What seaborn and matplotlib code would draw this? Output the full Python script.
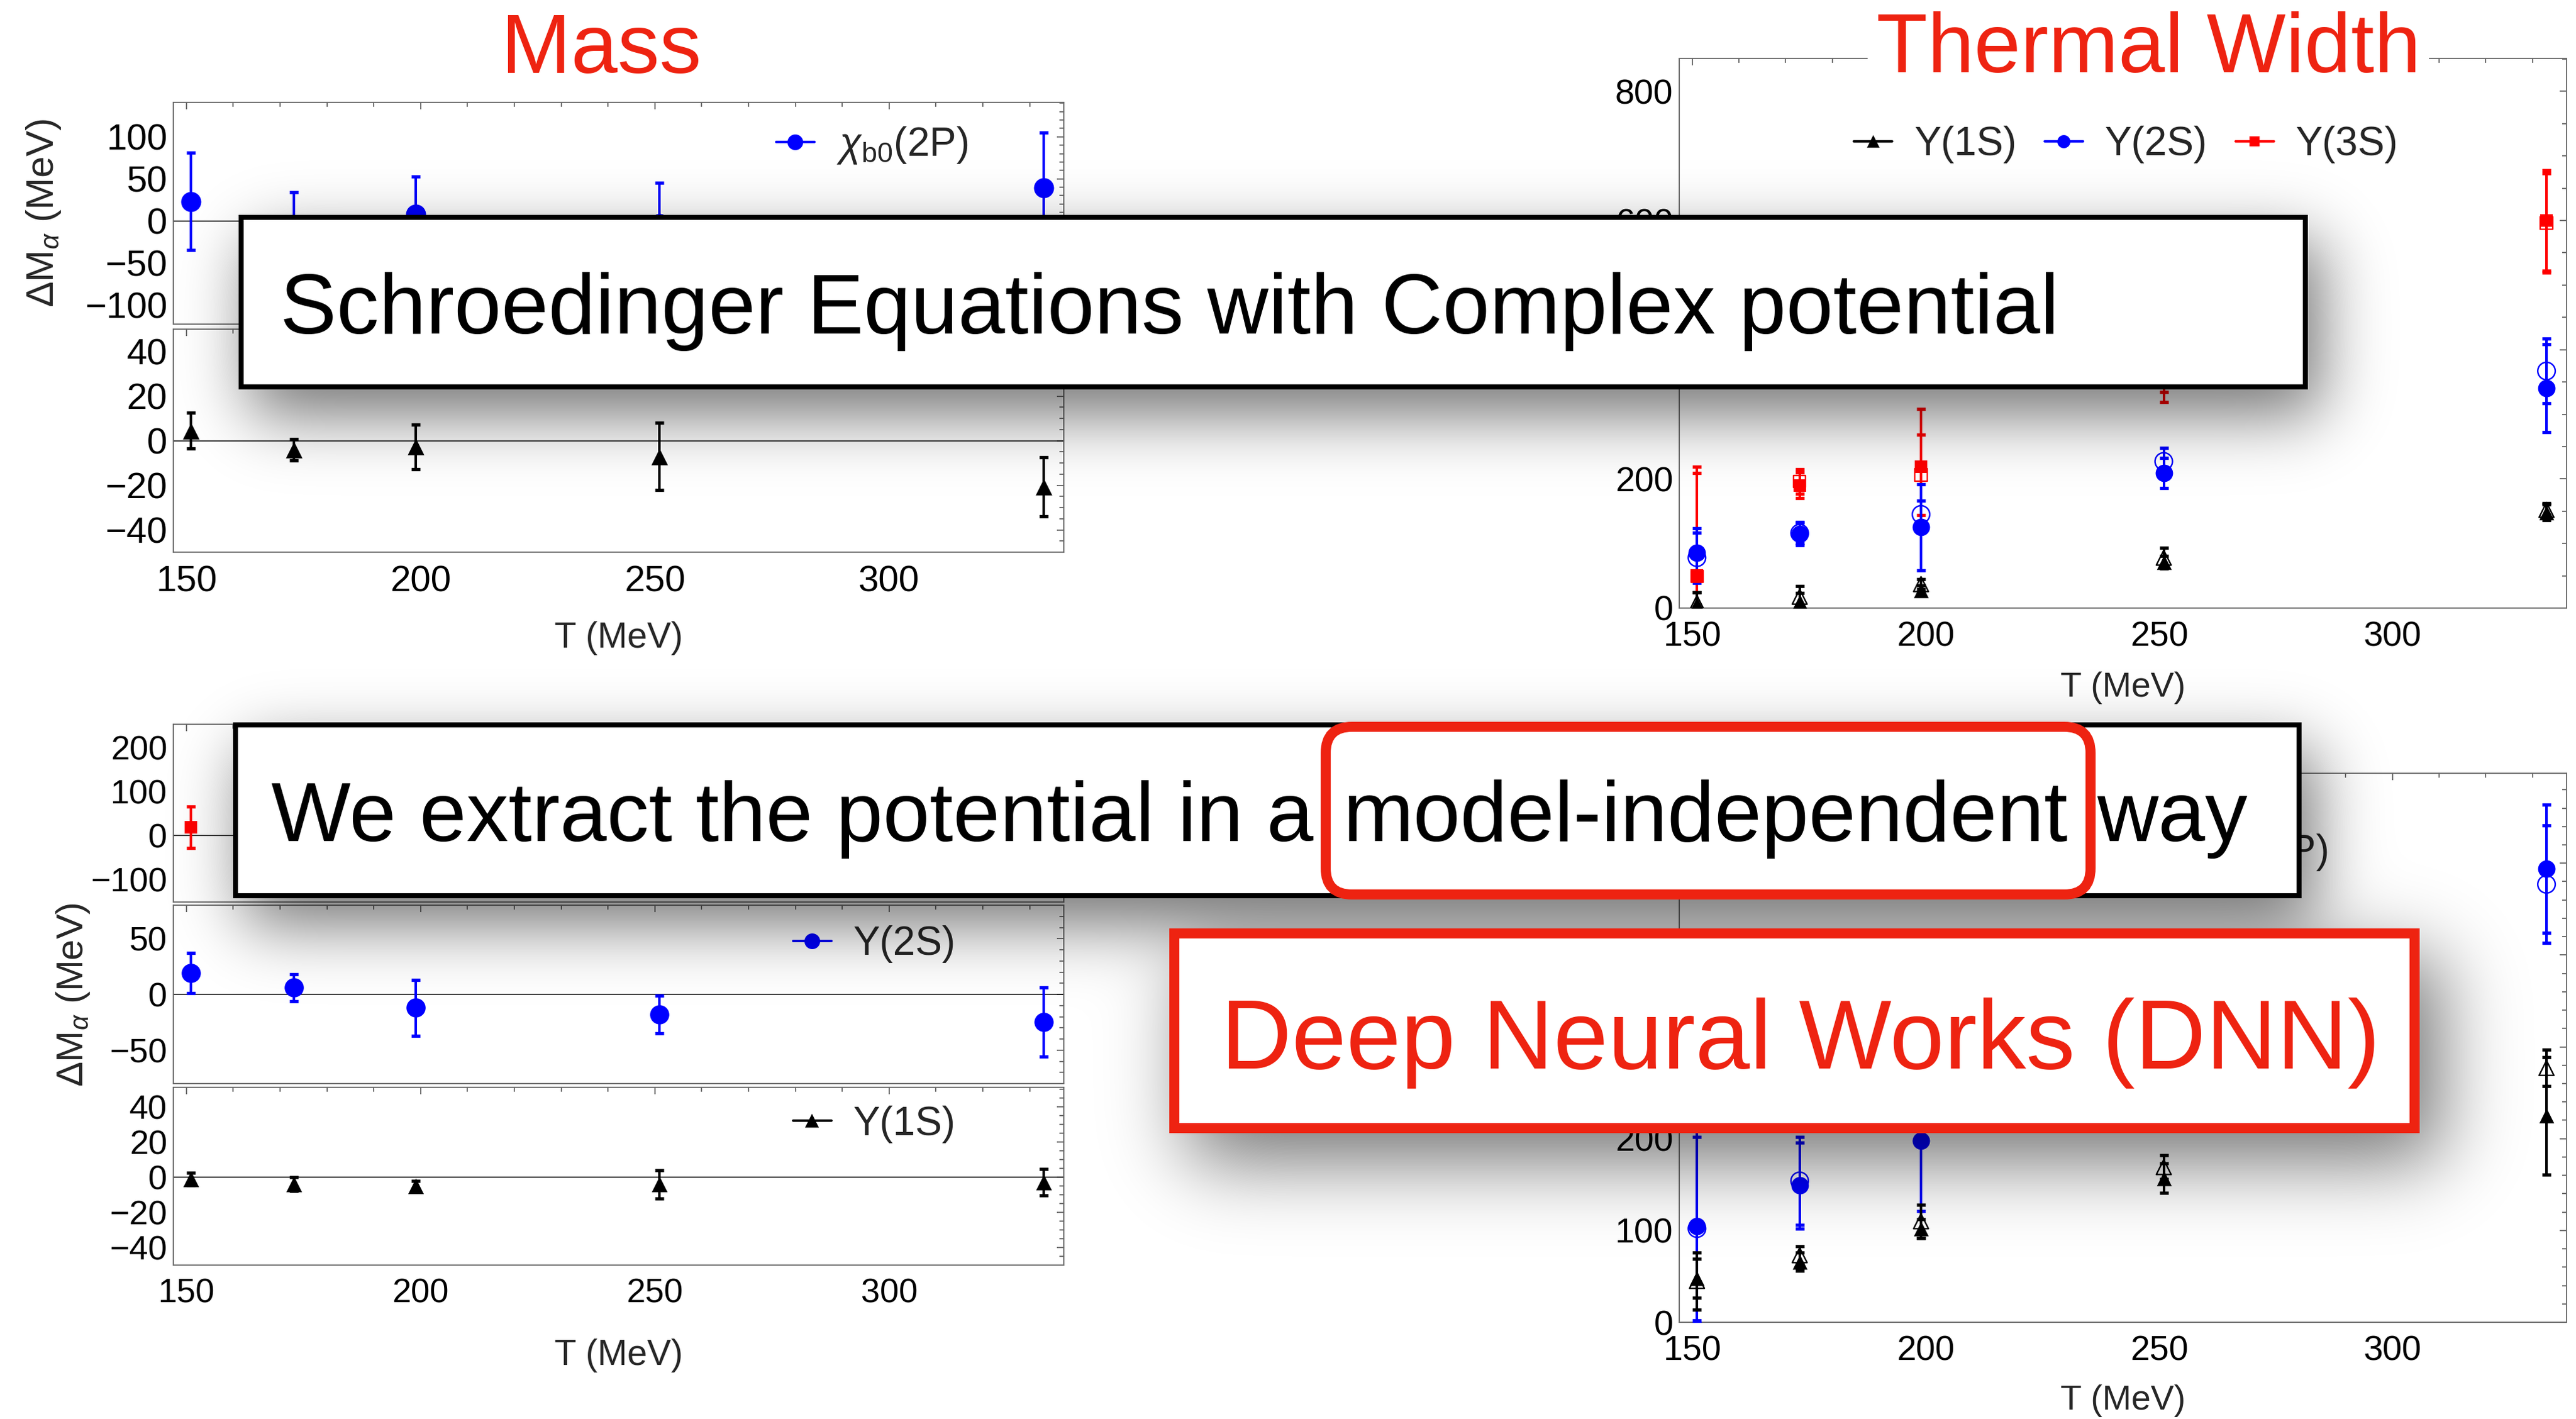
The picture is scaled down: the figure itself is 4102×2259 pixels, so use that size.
import math
import numpy as np
import pandas as pd
import matplotlib
matplotlib.use("Agg")
import matplotlib.pyplot as plt
import seaborn as sns
from matplotlib.patches import Rectangle, FancyBboxPatch
from matplotlib.lines import Line2D
from matplotlib.ticker import MultipleLocator

nan = float("nan")

# ---------------- data ----------------
T = [151, 173, 199, 251, 333]

# Top-left: mass shifts, Schroedinger eq. with complex potential
mass_chib0_2P = [23, -12, 8, -3, 39]
mass_chib0_2P_err = [58, 46, 45, 48, 66]
mass_ups1S = [4.5, -4.2, -2.8, -7.1, -20.8]
mass_ups1S_err = [8, 4.8, 10, 15, 13.2]

# Top-right: thermal widths (filled and open symbols)
width_ups1S = [6, 10, 27, 71, 148]
width_ups1S_err = [18, 13, 8, 10, 12]
width_ups1S_open = [8, 17.5, 37, 78, 152]
width_ups1S_open_err = [16, 16.5, 8, 15, 10]
width_ups2S = [86, 115, 125, 209, 340]
width_ups2S_err = [38, 18, 67, 23, 68]
width_ups2S_open = [78, 116, 145, 227, 367]
width_ups2S_open_err = [39, 16, 21, 21, 50]
width_ups3S = [51, 190, 219, 390, 600]
width_ups3S_err = [168, 20, 89, 55, 78]
width_ups3S_open = [49, 196, 206, 400, 596]
width_ups3S_open_err = [160, 19, 62, 81, 77]

# Bottom-left: mass shifts, DNN potential
mass_top_dnn = [18, nan, nan, nan, nan]
mass_top_dnn_err = [47, nan, nan, nan, nan]
mass_ups2S_dnn = [19, 6, -12, -18, -25]
mass_ups2S_dnn_err = [18, 12, 25, 17, 31]
mass_ups1S_dnn = [-1, -4, -5, -4, -3]
mass_ups1S_dnn_err = [3.5, 4, 3, 8, 7.5]

# Bottom-right: thermal widths, DNN potential
width_ups1S_dnn = [48, 66, 102, 157, 225]
width_ups1S_dnn_err = [21, 10, 10, 16, 64]
width_ups1S_dnn_open = [45, 73, 110, 169, 277]
width_ups1S_dnn_open_err = [31, 10, 18, 13, 20]
width_ups2S_dnn = [105, 149, 198, nan, 494]
width_ups2S_dnn_err = [106, 47, 77, nan, 70]
width_ups2S_dnn_open = [102, 154, nan, nan, 477]
width_ups2S_dnn_open_err = [100, 48, nan, nan, 64]

# texts
title_left = "Mass"
title_right = "Thermal Width"
box1_text = "Schroedinger Equations with Complex potential"
box2_parts = ["We extract the potential in a", "model-independent", "way"]
box3_text = "Deep Neural Works (DNN)"
lab_chi = r"$\chi_{\mathrm{b0}}$(2P)"
lab_1S, lab_2S, lab_3S = "Υ(1S)", "Υ(2S)", "Υ(3S)"
xlab = "T (MeV)"
ylab = r"ΔM$_{\alpha}$ (MeV)"

# ---------------- style ----------------
sns.set_theme(style="white")
plt.rcParams["font.family"] = ["Liberation Sans", "DejaVu Sans"]
plt.rcParams["mathtext.fontset"] = "custom"
plt.rcParams["mathtext.rm"] = "Liberation Sans"
plt.rcParams["mathtext.it"] = "Liberation Sans:italic"
plt.rcParams["mathtext.bf"] = "Liberation Sans:bold"
plt.rcParams["axes.unicode_minus"] = True

W, H, DPI = 4102, 2259, 100
FRAME = "#6e6e6e"
RED = "#EE2311"
BLUE = "#0000FF"
PRED = "#FF0000"

fig = plt.figure(figsize=(W / DPI, H / DPI), dpi=DPI)
fig.patch.set_facecolor("white")


def add_ax(x0, y0, x1, y1):
    return fig.add_axes([x0 / W, 1 - y1 / H, (x1 - x0) / W, (y1 - y0) / H])


def style(ax, ylim, ymaj, ymin, fs, xlabels=True):
    ax.set_xlim(147.2, 337.3)
    ax.set_ylim(*ylim)
    ax.xaxis.set_major_locator(MultipleLocator(50))
    ax.xaxis.set_minor_locator(MultipleLocator(10))
    ax.yaxis.set_major_locator(MultipleLocator(ymaj))
    ax.yaxis.set_minor_locator(MultipleLocator(ymin))
    ax.tick_params(which="both", direction="in", top=True, right=True,
                   color=FRAME, width=1.4, labelsize=fs, labelcolor="black")
    ax.tick_params(axis="x", which="both", pad=15)
    ax.tick_params(axis="y", which="both", pad=7)
    ax.tick_params(which="major", length=8)
    ax.tick_params(which="minor", length=5)
    if not xlabels:
        ax.tick_params(labelbottom=False)
    for s in ax.spines.values():
        s.set_color(FRAME)
        s.set_linewidth(1.4)
    ax.set_facecolor("white")
    ax.grid(False)
    ax.set_xlabel("")
    ax.set_ylabel("")


def series(ax, y, err, color, marker, ms, filled=True):
    ax.errorbar(T, y, yerr=err, fmt="none", ecolor=color, elinewidth=2.9,
                capsize=4.8, capthick=3.8, zorder=3)
    df = pd.DataFrame({"T": T, "v": y}).dropna()
    if filled:
        sns.scatterplot(data=df, x="T", y="v", ax=ax, marker=marker, s=ms ** 2,
                        color=color, edgecolor=color, linewidth=0, zorder=4,
                        legend=False)
    else:
        sns.scatterplot(data=df, x="T", y="v", ax=ax, marker=marker, s=ms ** 2,
                        facecolor="none", edgecolor=color, linewidth=1.7,
                        zorder=4, legend=False)


def handle(color, marker, ms):
    return Line2D([0], [0], color=color, marker=marker, markersize=ms,
                  markeredgewidth=0, linestyle="-", linewidth=2.8)


def legend(ax, handles, labels, anchor, loc="center left", fs=46, ncol=1):
    lg = ax.legend(handles, labels, loc=loc, bbox_to_anchor=anchor, ncol=ncol,
                   frameon=False, fontsize=fs, handlelength=0.95,
                   handletextpad=0.55, columnspacing=0.7, borderpad=0,
                   borderaxespad=0)
    lg.set_zorder(6)


# ---------------- top-left: mass ----------------
ax = add_ax(276, 163, 1694, 516)
ax.axhline(0, color="black", lw=1.1, zorder=1)
series(ax, mass_chib0_2P, mass_chib0_2P_err, BLUE, "o", 23)
style(ax, (-123, 141), 50, 10, 42, xlabels=False)
ax.set_ylabel(ylab, fontsize=44)
ax.yaxis.set_label_coords((100 - 276) / 1418, 0.5)
legend(ax, [handle(BLUE, "o", 18)], [lab_chi], (0.677, 0.805))

ax = add_ax(276, 524, 1694, 879)
ax.axhline(0, color="black", lw=1.1, zorder=1)
series(ax, mass_ups1S, mass_ups1S_err, "black", "^", 19)
style(ax, (-50, 50), 20, 5, 42)
ax.set_xlabel(xlab, fontsize=41)
ax.xaxis.set_label_coords(0.5, (879 - 989) / 355)

# ---------------- bottom-left: mass (DNN) ----------------
ax = add_ax(276, 1153, 1694, 1436)
ax.axhline(0, color="black", lw=1.1, zorder=1)
series(ax, mass_top_dnn, mass_top_dnn_err, PRED, "s", 15)
style(ax, (-151, 252), 100, 20, 39, xlabels=False)

ax = add_ax(276, 1441, 1694, 1725)
ax.axhline(0, color="black", lw=1.1, zorder=1)
series(ax, mass_ups2S_dnn, mass_ups2S_dnn_err, BLUE, "o", 22)
style(ax, (-80, 80), 50, 10, 39, xlabels=False)
ax.set_ylabel(ylab, fontsize=43)
ax.yaxis.set_label_coords((146 - 276) / 1418, 0.5)
legend(ax, [handle(BLUE, "o", 18)], [lab_2S], (0.696, 0.782))

ax = add_ax(276, 1731, 1694, 2014)
ax.axhline(0, color="black", lw=1.1, zorder=1)
series(ax, mass_ups1S_dnn, mass_ups1S_dnn_err, "black", "^", 18)
style(ax, (-50, 51), 20, 5, 39)
ax.set_xlabel(xlab, fontsize=41)
ax.xaxis.set_label_coords(0.5, (2014 - 2131) / 283)
legend(ax, [handle("black", "^", 16)], [lab_1S], (0.696, 0.793))

# ---------------- top-right: thermal width ----------------
ax = add_ax(2674, 93, 4087, 968)
series(ax, width_ups3S_open, width_ups3S_open_err, PRED, "s", 14, filled=False)
series(ax, width_ups3S, width_ups3S_err, PRED, "s", 14)
series(ax, width_ups2S_open, width_ups2S_open_err, BLUE, "o", 20, filled=False)
series(ax, width_ups2S, width_ups2S_err, BLUE, "o", 20)
series(ax, width_ups1S_open, width_ups1S_open_err, "black", "^", 17, filled=False)
series(ax, width_ups1S, width_ups1S_err, "black", "^", 17)
style(ax, (0, 851), 200, 50, 40)
ax.set_xlabel(xlab, fontsize=40)
ax.xaxis.set_label_coords(0.5, (968 - 1069) / 875)
legend(ax, [handle("black", "^", 15), handle(BLUE, "o", 15), handle(PRED, "s", 12)],
       [lab_1S, lab_2S, lab_3S], (0.197, 0.843), ncol=3)

# ---------------- bottom-right: thermal width (DNN) ----------------
ax = add_ax(2674, 1231, 4087, 2105)
series(ax, width_ups2S_dnn_open, width_ups2S_dnn_open_err, BLUE, "o", 20, filled=False)
series(ax, width_ups2S_dnn, width_ups2S_dnn_err, BLUE, "o", 20)
series(ax, width_ups1S_dnn_open, width_ups1S_dnn_open_err, "black", "^", 17, filled=False)
series(ax, width_ups1S_dnn, width_ups1S_dnn_err, "black", "^", 17)
style(ax, (0, 598), 100, 20, 40)
ax.set_xlabel(xlab, fontsize=40)
ax.xaxis.set_label_coords(0.5, (2105 - 2204) / 874)
legend(ax, [handle("black", "^", 15), handle(BLUE, "o", 15), handle(BLUE, "o", 15)],
       [lab_1S, lab_2S, lab_chi], (0.731, 0.855), loc="center right", ncol=3)

# ---------------- overlay: titles, shadows, boxes ----------------
ov = fig.add_axes([0, 0, 1, 1], zorder=10)
ov.set_xlim(0, W)
ov.set_ylim(H, 0)
ov.axis("off")
ov.patch.set_alpha(0)

ov.text(957, 116, title_left, color=RED, fontsize=96, ha="center", va="baseline", zorder=3)
ov.text(3421, 115, title_right, color=RED, fontsize=96, ha="center", va="baseline", zorder=3,
        bbox=dict(boxstyle="square,pad=0.1", fc="white", ec="none"))

box1 = (380, 342, 3675, 620)
box2 = (371, 1150, 3665, 1430)
box3 = (1862, 1478, 3853, 1804)

erf_v = np.vectorize(math.erf)


def phi(z):
    return 0.5 * (1 + erf_v(z / math.sqrt(2)))


SC = 4
gx = (np.arange(W // SC) + 0.5) * SC
gy = (np.arange(H // SC) + 0.5) * SC
keep = np.ones((len(gy), len(gx)))
for (x0, y0, x1, y1), dx, dy, sg, op in [(box1, 18, 40, 52, 0.55),
                                          (box2, 18, 40, 52, 0.55),
                                          (box3, 30, 42, 62, 0.55)]:
    fx = phi((gx - (x0 + dx)) / sg) - phi((gx - (x1 + dx)) / sg)
    fy = phi((gy - (y0 + dy)) / sg) - phi((gy - (y1 + dy)) / sg)
    keep *= 1 - op * np.outer(fy, fx)
rgba = np.zeros((len(gy), len(gx), 4))
rgba[..., 3] = 1 - keep
ov.imshow(rgba, extent=(0, W, H, 0), interpolation="bilinear", aspect="auto", zorder=1)


def framed(box, ec, lw_px):
    x0, y0, x1, y1 = box
    h = lw_px / 2
    ov.add_patch(Rectangle((x0 + h, y0 + h), x1 - x0 - lw_px, y1 - y0 - lw_px,
                           fc="white", ec=ec, lw=lw_px * 72 / DPI, zorder=2,
                           joinstyle="miter"))


framed(box1, "black", 8)
framed(box2, "black", 8)
framed(box3, RED, 16)

ov.text(446, 531, box1_text, fontsize=97, color="black", ha="left", va="baseline", zorder=3)
ov.text(432, 1339, box2_parts[0], fontsize=96.5, color="black", ha="left", va="baseline", zorder=3)
ov.text(2138, 1339, box2_parts[1], fontsize=97, color="black", ha="left", va="baseline", zorder=3)
ov.text(3339, 1339, box2_parts[2], fontsize=97, color="black", ha="left", va="baseline", zorder=3)
ov.text(1944, 1701, box3_text, fontsize=112.5, color=RED, ha="left", va="baseline", zorder=3)

ov.add_patch(FancyBboxPatch((2111, 1157), 3329 - 2111, 1424 - 1157,
                            boxstyle="round,pad=0,rounding_size=42",
                            fc="none", ec=RED, lw=16 * 72 / DPI, zorder=4))

fig.savefig("out.png", dpi=DPI)
